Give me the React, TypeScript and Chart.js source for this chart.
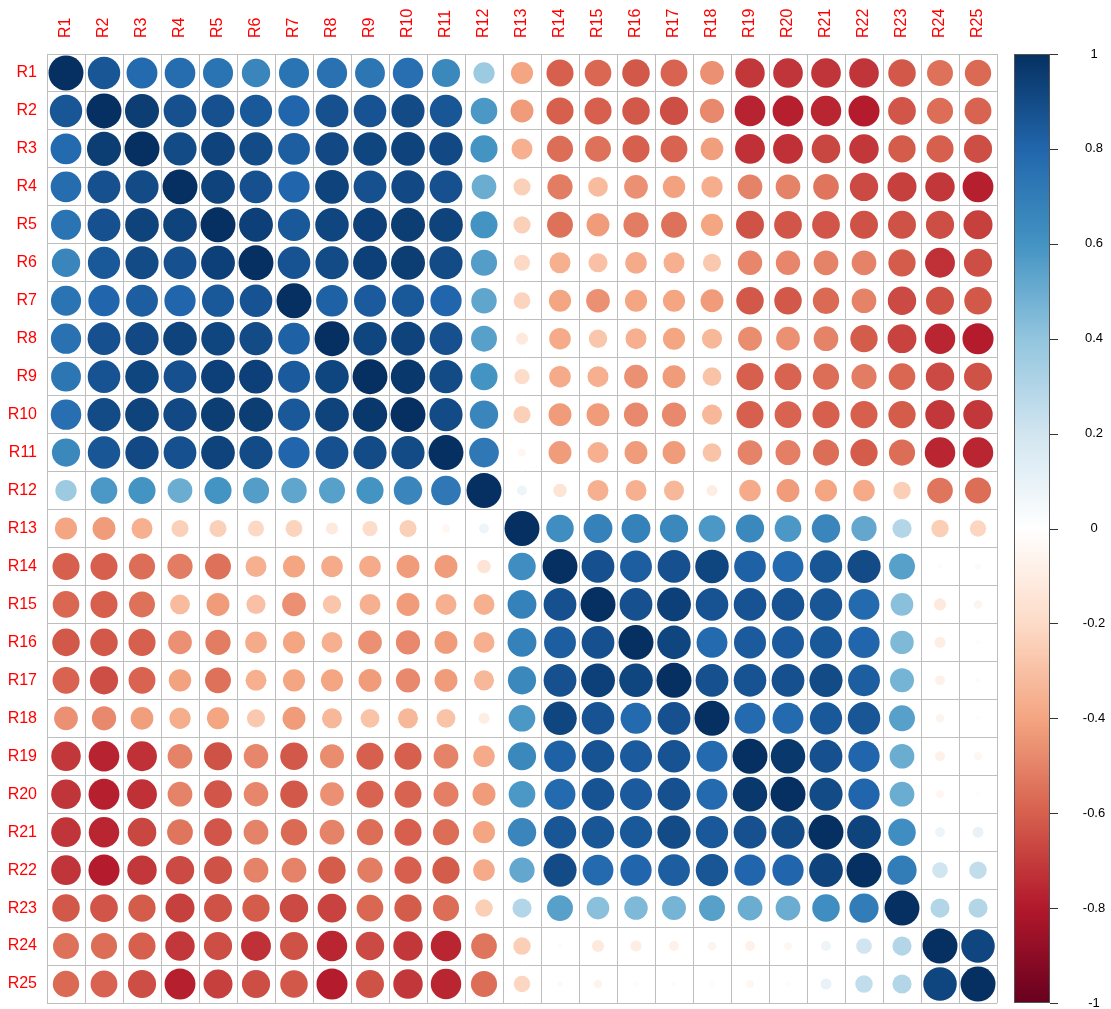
import React, { useEffect, useRef } from "react";
import { Chart, registerables } from "chart.js";

Chart.register(...registerables);

// Variable names shown on both axes
const variables = [
  "R1", "R2", "R3", "R4", "R5", "R6", "R7", "R8", "R9", "R10",
  "R11", "R12", "R13", "R14", "R15", "R16", "R17", "R18", "R19", "R20",
  "R21", "R22", "R23", "R24", "R25",
];

// Lower triangle of the correlation matrix: row k holds r(Rk, R1..Rk-1)
const row2 = [0.86];
const row3 = [0.78, 0.95];
const row4 = [0.77, 0.88, 0.9];
const row5 = [0.74, 0.88, 0.93, 0.93];
const row6 = [0.66, 0.85, 0.9, 0.88, 0.94];
const row7 = [0.74, 0.8, 0.83, 0.8, 0.85, 0.87];
const row8 = [0.75, 0.88, 0.91, 0.93, 0.92, 0.9, 0.82];
const row9 = [0.73, 0.87, 0.92, 0.88, 0.94, 0.94, 0.84, 0.92];
const row10 = [0.76, 0.9, 0.93, 0.91, 0.95, 0.95, 0.85, 0.93, 0.97];
const row11 = [0.65, 0.86, 0.91, 0.88, 0.93, 0.9, 0.8, 0.88, 0.9, 0.9];
const row12 = [0.37, 0.58, 0.6, 0.5, 0.6, 0.56, 0.53, 0.55, 0.6, 0.66, 0.72];
const row13 = [-0.4, -0.43, -0.36, -0.24, -0.24, -0.21, -0.23, -0.12, -0.19, -0.24, -0.05, 0.08];
const row14 = [-0.6, -0.6, -0.56, -0.52, -0.55, -0.36, -0.4, -0.38, -0.38, -0.43, -0.43, -0.15, 0.62];
const row15 = [-0.58, -0.6, -0.55, -0.32, -0.43, -0.3, -0.46, -0.28, -0.36, -0.43, -0.36, -0.36, 0.68, 0.88];
const row16 = [-0.62, -0.62, -0.6, -0.46, -0.52, -0.38, -0.4, -0.36, -0.46, -0.48, -0.43, -0.36, 0.68, 0.83, 0.88];
const row17 = [-0.59, -0.65, -0.59, -0.41, -0.55, -0.36, -0.4, -0.4, -0.43, -0.48, -0.43, -0.33, 0.65, 0.88, 0.94, 0.92];
const row18 = [-0.46, -0.48, -0.42, -0.37, -0.4, -0.27, -0.43, -0.33, -0.29, -0.33, -0.29, -0.1, 0.58, 0.92, 0.87, 0.78, 0.88];
const row19 = [-0.71, -0.77, -0.73, -0.5, -0.64, -0.49, -0.62, -0.47, -0.6, -0.6, -0.5, -0.38, 0.65, 0.82, 0.87, 0.84, 0.87, 0.78];
const row20 = [-0.72, -0.78, -0.73, -0.5, -0.63, -0.49, -0.62, -0.46, -0.59, -0.59, -0.51, -0.43, 0.58, 0.78, 0.87, 0.84, 0.88, 0.78, 0.97];
const row21 = [-0.72, -0.76, -0.67, -0.54, -0.63, -0.5, -0.57, -0.5, -0.56, -0.6, -0.56, -0.4, 0.66, 0.86, 0.86, 0.85, 0.9, 0.85, 0.88, 0.9];
const row22 = [-0.72, -0.79, -0.71, -0.66, -0.64, -0.5, -0.5, -0.61, -0.52, -0.6, -0.61, -0.38, 0.52, 0.9, 0.78, 0.8, 0.83, 0.86, 0.8, 0.8, 0.93];
const row23 = [-0.62, -0.63, -0.61, -0.69, -0.64, -0.61, -0.66, -0.68, -0.58, -0.61, -0.56, -0.25, 0.3, 0.55, 0.42, 0.45, 0.47, 0.55, 0.5, 0.5, 0.62, 0.7];
const row24 = [-0.55, -0.56, -0.6, -0.71, -0.65, -0.73, -0.64, -0.76, -0.66, -0.71, -0.76, -0.54, -0.25, -0.02, -0.12, -0.1, -0.08, -0.06, -0.08, -0.05, 0.08, 0.2, 0.3];
const row25 = [-0.57, -0.59, -0.65, -0.78, -0.69, -0.65, -0.62, -0.79, -0.64, -0.71, -0.76, -0.56, -0.22, -0.03, -0.06, -0.02, -0.02, -0.02, -0.05, -0.02, 0.1, 0.25, 0.3, 0.92];

const lowerRows: number[][] = [
  [], row2, row3, row4, row5, row6, row7, row8, row9, row10, row11, row12, row13,
  row14, row15, row16, row17, row18, row19, row20, row21, row22, row23, row24, row25,
];

// Colour legend ticks
const legendTicks = [1, 0.8, 0.6, 0.4, 0.2, 0, -0.2, -0.4, -0.6, -0.8, -1];

// RdBu diverging palette from r = -1 to r = +1
const rdbu = [
  "#67001F", "#B2182B", "#D6604D", "#F4A582", "#FDDBC7", "#FFFFFF",
  "#D1E5F0", "#92C5DE", "#4393C3", "#2166AC", "#053061",
];

const FONT = "'Liberation Sans', Arial, Helvetica, sans-serif";
const LABEL_SIZE = 16;

function hexToRgb(h: string): number[] {
  const n = parseInt(h.slice(1), 16);
  return [(n >> 16) & 255, (n >> 8) & 255, n & 255];
}

function colorFor(v: number): string {
  const t = ((Math.max(-1, Math.min(1, v)) + 1) / 2) * (rdbu.length - 1);
  const i = Math.min(rdbu.length - 2, Math.floor(t));
  const f = t - i;
  const a = hexToRgb(rdbu[i]);
  const b = hexToRgb(rdbu[i + 1]);
  const c = a.map((x, k) => Math.round(x + (b[k] - x) * f));
  return `rgb(${c[0]},${c[1]},${c[2]})`;
}

function corr(i: number, j: number): number {
  if (i === j) return 1;
  return i > j ? lowerRows[i][j] : lowerRows[j][i];
}

type Cell = { x: string; y: string; v: number };

const cells: Cell[] = [];
variables.forEach((rowName, i) => {
  variables.forEach((colName, j) => {
    cells.push({ x: colName, y: rowName, v: corr(i, j) });
  });
});

function cellValue(ctx: any): number {
  const idx = ctx && typeof ctx.dataIndex === "number" ? ctx.dataIndex : -1;
  return idx >= 0 && idx < cells.length ? cells[idx].v : 0;
}

// Circle radius: area proportional to |r|, the full circle filling 92% of a cell
function circleRadius(ctx: any): number {
  const xs = ctx.chart.scales.x;
  if (!xs) return 0;
  const cellW = Math.abs(xs.getPixelForValue(1) - xs.getPixelForValue(0));
  if (!isFinite(cellW)) return 0;
  return 0.46 * cellW * Math.sqrt(Math.abs(cellValue(ctx)));
}

// Draws the colour key next to the matrix, positioned by the "key" scale
const colorKeyPlugin = {
  id: "colorKey",
  afterDraw(chart: any) {
    const scale = chart.scales.key;
    const area = chart.chartArea;
    if (!scale || !area) return;
    const ctx = chart.ctx as CanvasRenderingContext2D;
    const top = scale.getPixelForValue(1);
    const bottom = scale.getPixelForValue(-1);
    const x0 = area.right + 17;
    const w = 36;
    const grad = ctx.createLinearGradient(0, bottom, 0, top);
    rdbu.forEach((c, k) => grad.addColorStop(k / (rdbu.length - 1), c));
    ctx.save();
    ctx.fillStyle = grad;
    ctx.fillRect(x0, top, w, bottom - top);
    ctx.strokeStyle = "#555555";
    ctx.lineWidth = 1;
    ctx.strokeRect(x0 + 0.5, Math.round(top) + 0.5, w - 1, Math.round(bottom - top) - 1);
    ctx.strokeStyle = "#333333";
    ctx.fillStyle = "#000000";
    ctx.font = `13px ${FONT}`;
    ctx.textAlign = "center";
    ctx.textBaseline = "middle";
    legendTicks.forEach((v) => {
      const py = scale.getPixelForValue(v);
      const y = Math.round(py) + 0.5;
      ctx.beginPath();
      ctx.moveTo(x0 + w, y);
      ctx.lineTo(x0 + w + 8, y);
      ctx.stroke();
      ctx.fillText(String(v), area.right + 97, py);
    });
    ctx.restore();
  },
};

const noPadding = (s: any) => {
  s.paddingTop = 0;
  s.paddingBottom = 0;
  s.paddingLeft = 0;
  s.paddingRight = 0;
};

export default function App() {
  const canvasRef = useRef<HTMLCanvasElement | null>(null);

  useEffect(() => {
    const canvas = canvasRef.current;
    if (!canvas) return;
    Chart.defaults.font.family = FONT;

    const chart = new Chart(canvas, {
      type: "scatter",
      data: {
        datasets: [
          {
            data: cells as any,
            showLine: false,
            pointBackgroundColor: (ctx: any) => colorFor(cellValue(ctx)),
            pointBorderColor: (ctx: any) => colorFor(cellValue(ctx)),
            pointBorderWidth: 0,
            pointRadius: circleRadius,
            pointHoverRadius: circleRadius,
            pointHitRadius: 0,
            clip: false,
          } as any,
        ],
      },
      options: {
        responsive: false,
        animation: false,
        devicePixelRatio: 1,
        events: [],
        layout: { padding: { left: 0, top: 0, right: 0, bottom: 6 } },
        plugins: {
          legend: { display: false },
          tooltip: { enabled: false },
        },
        scales: {
          x: {
            type: "category",
            labels: variables,
            position: "top",
            offset: true,
            grid: { offset: true, color: "#BEBEBE", lineWidth: 1, drawTicks: false },
            border: { display: true, color: "#BEBEBE" },
            ticks: {
              color: "#FF0000",
              font: { size: LABEL_SIZE, family: FONT },
              minRotation: 90,
              maxRotation: 90,
              autoSkip: false,
              padding: 16,
              labelOffset: LABEL_SIZE * 1.2,
            },
            afterFit: (s: any) => {
              s.height = 54;
              noPadding(s);
            },
          },
          y: {
            type: "category",
            labels: variables,
            position: "left",
            offset: true,
            grid: { offset: true, color: "#BEBEBE", lineWidth: 1, drawTicks: false },
            border: { display: true, color: "#BEBEBE" },
            ticks: {
              color: "#FF0000",
              font: { size: LABEL_SIZE, family: FONT },
              autoSkip: false,
              padding: 10,
            },
            afterFit: (s: any) => {
              s.width = 47;
              noPadding(s);
            },
          },
          key: {
            type: "linear",
            position: "right",
            min: -1,
            max: 1,
            grid: { display: false, drawOnChartArea: false },
            border: { display: false },
            ticks: { display: false },
            afterFit: (s: any) => {
              s.width = 114;
              noPadding(s);
            },
          },
        },
      } as any,
      plugins: [colorKeyPlugin],
    });

    return () => chart.destroy();
  }, []);

  return (
    <div style={{ position: "fixed", left: 0, top: 0, width: 1111, height: 1009, background: "#FFFFFF" }}>
      <canvas ref={canvasRef} width={1111} height={1009} style={{ width: 1111, height: 1009 }} />
    </div>
  );
}
